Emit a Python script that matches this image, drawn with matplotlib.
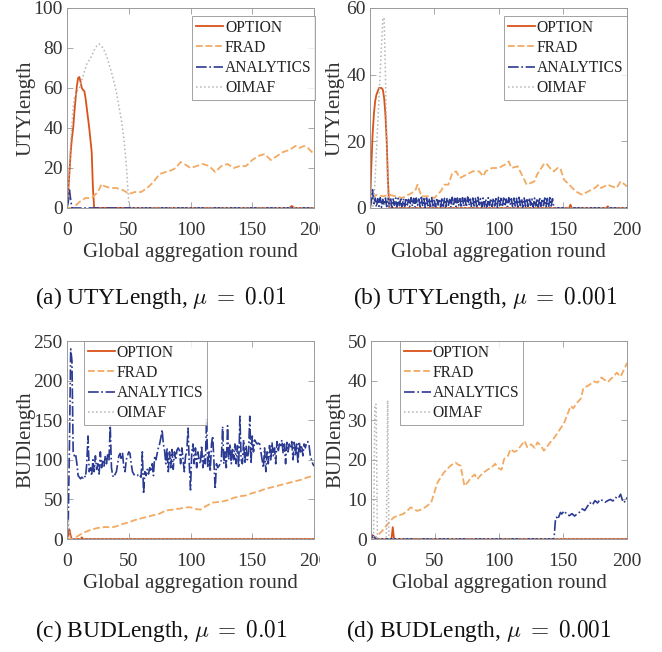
import numpy as np
import matplotlib
matplotlib.use("Agg")
import matplotlib.pyplot as plt
from matplotlib.transforms import Bbox, TransformedBbox

plt.rcParams['font.family'] = ['Liberation Serif', 'DejaVu Serif']
plt.rcParams['mathtext.fontset'] = 'cm'

# colours / styles per method
methods = ["OPTION", "FRAD", "ANALYTICS", "OIMAF"]
colors = {"OPTION": "#D95319", "FRAD": "#F2AA63", "ANALYTICS": "#2B3A92", "OIMAF": "#B4B4B4"}
styles = {"OPTION": "-", "FRAD": "--", "ANALYTICS": "-.", "OIMAF": ":"}
widths = {"OPTION": 1.3, "FRAD": 1.3, "ANALYTICS": 1.2, "OIMAF": 1.1}

# ---------------- (a) UTYLength, mu = 0.01 ----------------
a_opt_x = [0, 1, 2, 3, 4, 5, 6, 7, 8, 9, 10, 11, 12, 13, 14, 15, 16, 17, 18, 19, 20, 21, 22, 180, 182, 184, 200]
a_opt_y = [0, 8, 18, 28, 35, 40, 48, 55, 61, 65, 65.5, 63, 60, 59, 58.5, 55, 50, 45, 40, 34, 28, 10, 0, 0, 1, 0, 0]
a_frad_x = [0, 5, 10, 15, 20, 25, 28, 30, 35, 40, 45, 48, 50, 55, 60, 65, 70, 75, 80, 85, 88, 92, 95, 100,
            105, 110, 115, 120, 125, 130, 135, 140, 145, 150, 155, 160, 165, 170, 175, 180, 185, 188, 192, 195, 200]
a_frad_y = [0, 0, 3, 5, 5, 8, 12, 11, 10, 10, 9, 8, 7, 8, 8, 10, 13, 17, 18, 19, 20, 23, 22, 20,
            21, 22, 21, 18, 21, 22, 20, 21, 21, 24, 26, 27, 24, 26, 28, 29, 31, 30, 31, 30, 27]
a_ana_x = [0, 1, 2, 3, 4, 200]
a_ana_y = [0, 3, 9, 4, 0, 0]
a_oim_x = [0, 1, 2, 3, 4, 5, 6, 8, 10, 12, 14, 16, 18, 20, 22, 24, 26, 28, 30, 32, 34, 36, 38, 40,
           42, 44, 46, 48, 49, 50, 51, 200]
a_oim_y = [0, 10, 22, 33, 42, 50, 55, 58, 60, 64, 68, 72, 74, 76, 79, 81, 82, 81, 79, 76, 72, 68, 63, 58,
           51, 44, 35, 22, 12, 3, 0, 0]

# ---------------- (b) UTYLength, mu = 0.001 ----------------
b_opt_x = [0, 1, 2, 3, 4, 5, 6, 7, 8, 9, 10, 11, 12, 13, 14, 15, 16, 155, 156, 157, 184, 185, 186, 200]
b_opt_y = [0, 12, 22, 28, 32, 34, 35, 36, 36, 36, 35.5, 33, 28, 20, 8, 0, 0, 0, 1, 0, 0, 0.5, 0, 0]
b_frad_x = [0, 2, 5, 10, 15, 20, 25, 30, 35, 37, 40, 45, 50, 55, 58, 61, 64, 67, 70, 75, 80, 85, 88, 90,
            95, 100, 105, 108, 110, 115, 120, 122, 125, 128, 130, 135, 137, 140, 143, 146, 148, 151,
            155, 160, 165, 170, 175, 178, 180, 185, 188, 192, 195, 200]
b_frad_y = [0, 3, 4, 3.5, 4, 3.5, 3, 4, 5, 7, 3.5, 3.5, 3, 5, 7, 7, 10.5, 11, 9, 10, 11, 11, 9.5, 11,
            12, 12, 13, 14, 12, 12.5, 8.5, 7, 7.5, 8, 10, 13, 13.5, 12, 11, 12, 12, 8.5,
            7, 5, 4, 5, 6, 7, 6, 7, 6.5, 6, 8, 6.5]
b_ana_y = [0, 2.0, 5.5, 0.8, 3.0, 0.3, 2.8, 0.5, 3.1, 0.2, 2.6, 0.9, 3.0, 0.4, 2.9, 0.6, 3.2, 0.1, 2.7, 0.8,
           3.0, 0.3, 2.9, 0.7, 3.1, 0.2, 2.8, 0.5, 3.0, 0.9, 2.6, 0.3, 3.1, 0.6, 2.9, 0.2, 3.0, 0.8, 2.7, 0.4,
           3.2, 0.5, 2.8, 0.1, 3.0, 0.7, 2.9, 0.3, 3.1, 0.6, 2.7, 0.2, 3.0, 0.9, 2.8, 0.4, 3.1, 0.5, 2.9, 0.3,
           3.0, 0.8, 2.6, 0.2, 3.2, 0.6, 2.9, 0.4, 3.0, 0.7, 2.8, 0.1, 3.1, 0.5, 2.9, 0.3, 3.3, 0.8, 2.7, 0.2,
           3.0, 0.6, 2.9, 0.4, 3.2, 0.9, 2.8, 0.3, 3.0, 0.5, 2.7, 0.1, 3.1, 0.7, 2.9, 0.4, 3.0, 0.6, 2.8, 0.2,
           3.2, 0.8, 2.9, 0.3, 3.0, 0.5, 2.7, 0.4, 3.1, 0.9, 2.8, 0.2, 3.0, 0.6, 2.9, 0.3, 3.2, 0.7, 2.8, 0.1,
           3.0, 0.5, 2.9, 0.4, 3.1, 0.8, 2.7, 0.2, 3.0, 0.6, 2.9, 0.3, 3.2, 0.5, 2.8, 0.7, 3.0, 0.4, 2.9, 0.2,
           3.1, 0.6, 2.8, 0.3, 0, 0]
b_ana_x = list(range(len(b_ana_y) - 1)) + [200]
b_oim_x = [0, 1, 2, 3, 4, 5, 6, 7, 8, 9, 10, 11, 12, 13, 14, 15, 200]
b_oim_y = [0, 0, 0, 2, 9, 17, 25, 33, 41, 49, 57, 57, 40, 20, 4, 0, 0]

# ---------------- (c) BUDLength, mu = 0.01 ----------------
c_opt_x = [0, 1, 2, 3, 4, 11, 12, 13, 200]
c_opt_y = [0, 5, 12, 4, 0, 0, 2, 0, 0]
c_frad_x = [0, 5, 10, 15, 20, 25, 30, 37, 40, 45, 50, 55, 60, 65, 70, 75, 80, 85, 90, 97, 100, 104, 108,
            112, 118, 125, 130, 135, 140, 145, 150, 155, 160, 165, 170, 175, 180, 185, 190, 195, 200]
c_frad_y = [0, 0, 5, 9, 12, 14, 15, 15, 16, 19, 21, 24, 26, 28, 30, 32, 36, 37, 38, 40, 40, 38, 37,
            41, 46, 47, 49, 52, 54, 55, 58, 60, 63, 65, 67, 69, 71, 73, 75, 78, 80]
c_ana_y = [0, 20, 120, 240, 225, 110, 105, 107, 95, 80, 78, 76, 78, 77, 80, 78, 95, 130, 85, 90,
           80, 100, 85, 105, 88, 95, 82, 110, 90, 100, 92, 105, 95, 108, 100, 143, 90, 80, 78, 82,
           85, 95, 105, 108, 100, 108, 90, 85, 100, 105, 110, 108, 95, 85, 82, 80, 80, 80, 82, 80,
           78, 110, 57, 85, 80, 88, 82, 90, 85, 95, 80, 105, 100, 108, 115, 120, 128, 138, 120, 112,
           95, 115, 85, 110, 90, 113, 88, 110, 100, 112, 115, 112, 95, 115, 100, 85, 105, 110, 140, 95,
           62, 110, 120, 95, 115, 90, 110, 100, 95, 118, 90, 105, 95, 152, 90, 110, 85, 120, 130, 95,
           63, 95, 90, 92, 95, 100, 142, 95, 110, 90, 143, 100, 120, 95, 115, 100, 120, 95, 118, 90,
           155, 100, 95, 125, 95, 118, 100, 110, 155, 95, 130, 110, 125, 122, 120, 121, 120, 110, 100, 90,
           115, 85, 110, 95, 118, 100, 122, 105, 115, 95, 123, 110, 120, 118, 125, 108, 120, 95, 122, 110,
           120, 115, 123, 100, 122, 105, 120, 95, 123, 110, 118, 105, 120, 115, 122, 123, 118, 105, 100, 95,
           92]
c_ana_x = list(range(len(c_ana_y)))
c_oim_x = [0, 1, 2, 3, 200]
c_oim_y = [0, 25, 8, 0, 0]

# ---------------- (d) BUDLength, mu = 0.001 ----------------
d_opt_x = [0, 1, 2, 3, 16, 17, 18, 200]
d_opt_y = [0, 1, 0.5, 0, 0, 3, 0, 0]
d_frad_x = [0, 2, 5, 10, 15, 18, 21, 25, 28, 31, 34, 36, 40, 44, 47, 52, 57, 62, 66, 68, 70, 73, 76, 78,
            81, 83, 86, 88, 91, 94, 97, 99, 102, 104, 107, 109, 112, 114, 117, 120, 122, 125, 128, 130,
            133, 135, 138, 140, 143, 146, 151, 156, 158, 161, 164, 166, 169, 171, 174, 177, 180, 182,
            185, 187, 190, 192, 195, 198, 200]
d_frad_y = [0, 0, 0.8, 2.5, 4.6, 5.5, 5.9, 6.3, 7, 8, 7.5, 7.1, 7.5, 8.4, 9.2, 14.3, 16.8, 18.5, 19.3, 18.8,
            18.5, 13.4, 14.5, 15.5, 16.3, 15.1, 16.2, 16.8, 17.5, 18, 19, 18, 17.5, 20.2, 21, 22.7, 22, 22.3,
            23.5, 24.8, 23.2, 23.9, 23, 24.4, 23.5, 22.3, 23.5, 24.4, 25.5, 26.9, 29.4, 33.6, 33, 34.4,
            35.5, 38.2, 38.6, 39, 39.8, 39.5, 40.8, 40.3, 39.6, 40.3, 41.2, 42, 41, 43, 44.5]
d_ana_x = [0, 1, 2, 3, 4, 143, 144, 145, 146, 148, 149, 151, 153, 155, 157, 159, 161, 163, 165, 167,
           169, 171, 173, 175, 177, 179, 181, 183, 185, 187, 189, 191, 193, 195, 197, 199, 200]
d_ana_y = [0, 0.5, 0.8, 0.3, 0, 0, 4.5, 5.5, 5, 6.7, 6.3, 7.1, 6.2, 5.9, 6.4, 5.8, 6.3, 6.8, 7.6, 7.2,
           8.2, 9.2, 8.6, 9.7, 9.1, 10, 9.7, 9.3, 9.7, 10, 9.6, 10.5, 10.2, 11.3, 9.2, 9.6, 10.5]
d_oim_x = [0, 2, 3, 4, 5, 12, 13, 14, 200]
d_oim_y = [0, 0, 34, 34, 0, 0, 35, 0, 0]

panels = [
    dict(series={"OPTION": (a_opt_x, a_opt_y), "FRAD": (a_frad_x, a_frad_y),
                 "ANALYTICS": (a_ana_x, a_ana_y), "OIMAF": (a_oim_x, a_oim_y)},
         ylim=100, yticks=[0, 20, 40, 60, 80, 100], ylabel="UTYlength", ypad=-1.5,
         caption=r"(a) UTYLength, $\mu\;=\;0.01$", rect=[67, 8, 247, 200],
         leg=("upper right", (1.006, 0.96)), capx=161, capy=298, clip=True),
    dict(series={"OPTION": (b_opt_x, b_opt_y), "FRAD": (b_frad_x, b_frad_y),
                 "ANALYTICS": (b_ana_x, b_ana_y), "OIMAF": (b_oim_x, b_oim_y)},
         ylim=60, yticks=[0, 20, 40, 60], ylabel="UTYlength", ypad=1.5,
         caption=r"(b) UTYLength, $\mu\;=\;0.001$", rect=[370, 8, 257, 200],
         leg=("upper right", (1.0, 0.96)), capx=485, capy=298, clip=False),
    dict(series={"OPTION": (c_opt_x, c_opt_y), "FRAD": (c_frad_x, c_frad_y),
                 "ANALYTICS": (c_ana_x, c_ana_y), "OIMAF": (c_oim_x, c_oim_y)},
         ylim=250, yticks=[0, 50, 100, 150, 200, 250], ylabel="BUDlength", ypad=-1.5,
         caption=r"(c) BUDLength, $\mu\;=\;0.01$", rect=[67, 341, 247, 198],
         leg=("upper left", (0.069, 1.0)), capx=161, capy=631, clip=True),
    dict(series={"OPTION": (d_opt_x, d_opt_y), "FRAD": (d_frad_x, d_frad_y),
                 "ANALYTICS": (d_ana_x, d_ana_y), "OIMAF": (d_oim_x, d_oim_y)},
         ylim=50, yticks=[0, 10, 20, 30, 40, 50], ylabel="BUDlength", ypad=1.5,
         caption=r"(d) BUDLength, $\mu\;=\;0.001$", rect=[371, 341, 256, 198],
         leg=("upper left", (0.113, 1.0)), capx=479, capy=631, clip=False),
]

W, H = 662, 652
fig = plt.figure(figsize=(W / 100, H / 100), dpi=100)
txt = "#333333"
edge = "#9A9A9A"

for p in panels:
    l, t, w, h = p["rect"]
    ax = fig.add_axes([l / W, 1 - (t + h) / H, w / W, h / H])
    for m in methods:
        xs, ys = p["series"][m]
        ax.plot(xs, ys, styles[m], color=colors[m], lw=widths[m], label=m)
    ax.set_xlim(0, 200)
    ax.set_ylim(0, p["ylim"])
    ax.set_xticks([0, 50, 100, 150, 200])
    ax.set_yticks(p["yticks"])
    ax.tick_params(direction="in", length=4, width=0.6, color=edge, labelcolor=txt,
                   labelsize=14, top=True, right=True)
    ax.tick_params(axis="x", pad=10)
    ax.tick_params(axis="y", pad=3)
    for s in ax.spines.values():
        s.set_color(edge)
        s.set_linewidth(0.7)
    ax.set_xlabel("Global aggregation round", fontsize=15, color=txt, labelpad=3)
    ax.set_ylabel(p["ylabel"], fontsize=15, color=txt, labelpad=p["ypad"])
    leg = ax.legend(loc=p["leg"][0], bbox_to_anchor=p["leg"][1], borderaxespad=0,
                    fontsize=11.2, frameon=True, fancybox=False, edgecolor="#8A8A8A",
                    handlelength=1.75, handletextpad=0.1, labelspacing=0.26, borderpad=0.25)
    leg.get_frame().set_linewidth(0.7)
    for tx in leg.get_texts():
        tx.set_color("#222222")
    if p["clip"]:
        cb = TransformedBbox(Bbox([[0, 0], [320 / W, 1]]), fig.transFigure)
        for lab in ax.get_xticklabels():
            lab.set_clip_on(True)
            lab.set_clip_box(cb)
    fig.text(p["capx"] / W, 1 - p["capy"] / H, p["caption"], ha="center", va="center",
             fontsize=16.8, color="#111111")

fig.savefig("out.png", dpi=100)
